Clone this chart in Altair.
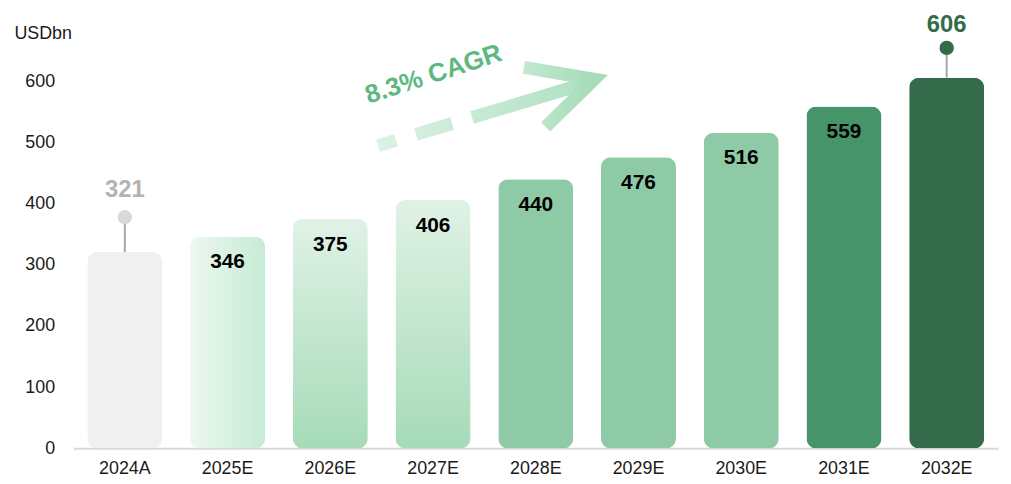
import altair as alt
import pandas as pd

# ---- data ----
categories = ["2024A", "2025E", "2026E", "2027E", "2028E", "2029E", "2030E", "2031E", "2032E"]
values = [321, 346, 375, 406, 440, 476, 516, 559, 606]
bar_style = ["solid", "hgrad", "vgrad", "vgrad", "solid", "solid", "solid", "solid", "solid"]
bar_fill = ["#f0f0f0", "", "", "", "#8ecaa6", "#8ecaa6", "#8ecaa6", "#46946a", "#336b4b"]
inside_label = [False, True, True, True, True, True, True, True, False]
lollipop = [True, False, False, False, False, False, False, False, True]
dot_color = ["#d9d9d9", "", "", "", "", "", "", "", "#336b4b"]
top_label_color = ["#b3b3b3", "", "", "", "", "", "", "", "#336b4b"]
cagr_text = "8.3% CAGR"
y_ticks = [0, 100, 200, 300, 400, 500, 600]

df = pd.DataFrame({
    "cat": categories,
    "value": values,
    "style": bar_style,
    "fill": bar_fill,
    "inside": inside_label,
    "lolli": lollipop,
    "dot": dot_color,
    "tcol": top_label_color,
})

FONT = "Liberation Sans"
FIRST = categories[0]
LAST = categories[-1]

x_enc = alt.X("cat:N", sort=categories,
              scale=alt.Scale(paddingInner=0.27, paddingOuter=0.135),
              axis=alt.Axis(title=None, labelAngle=0, ticks=False, domainColor="#d9d9d9",
                            domainWidth=2, labelPadding=11, labelFontSize=18,
                            labelColor="#1a1a1a", labelFont=FONT))
y_enc = alt.Y("value:Q", scale=alt.Scale(domain=[0, 600], nice=False),
              axis=alt.Axis(values=y_ticks, domain=False, ticks=False, grid=False,
                            labelFontSize=18, labelPadding=19, labelColor="#1a1a1a",
                            labelFont=FONT, title="USDbn", titleAngle=0, titleX=-60,
                            titleY=-48, titleAlign="left", titleBaseline="middle",
                            titleFontWeight="normal", titleFontSize=18, titleFont=FONT,
                            titleColor="#1a1a1a"))

base = alt.Chart(df).encode(x=x_enc, y=y_enc)

solid = base.transform_filter("datum.style == 'solid'").mark_bar(cornerRadius=10).encode(
    fill=alt.Fill("fill:N", scale=None))

hgrad = base.transform_filter("datum.style == 'hgrad'").mark_bar(
    cornerRadius=10,
    color=alt.Gradient(gradient="linear", x1=0, x2=1, y1=0, y2=0,
                       stops=[alt.GradientStop(color="#ecf8f0", offset=0),
                              alt.GradientStop(color="#c6ebd4", offset=1)]))

vgrad = base.transform_filter("datum.style == 'vgrad'").mark_bar(
    cornerRadius=10,
    color=alt.Gradient(gradient="linear", x1=0, x2=0, y1=0, y2=1,
                       stops=[alt.GradientStop(color="#e0f2e6", offset=0),
                              alt.GradientStop(color="#a6dbb8", offset=1)]))

inner_text = base.transform_filter("datum.inside").mark_text(
    dy=26, fontWeight="bold", fontSize=21, font=FONT, color="#000000",
    baseline="middle").encode(text="value:Q")


def lolli_layers(cat, dot_off, text_off):
    b = base.transform_filter(alt.datum.cat == cat)
    stem = b.mark_rule(color="#a6a6a6", strokeWidth=2, y2Offset=dot_off).encode(
        y2=alt.Y2("value:Q"))
    dot = b.mark_circle(size=210, opacity=1, yOffset=dot_off).encode(
        color=alt.Color("dot:N", scale=None))
    txt = b.mark_text(dy=text_off, fontWeight="bold", fontSize=24, font=FONT,
                      baseline="middle").encode(text="value:Q",
                                                color=alt.Color("tcol:N", scale=None))
    return [stem, dot, txt]


lolli_first = lolli_layers(FIRST, -35, -62)
lolli_last = lolli_layers(LAST, -30, -53)

# ---- CAGR annotation (decorative arrow), pixel positions relative to plot origin ----
OX, OY = 74, 80
arrow_df = pd.DataFrame({"x": [528 - OX, 599 - OX, 550 - OX],
                         "y": [66 - OY, 78 - OY, 126 - OY],
                         "o": [0, 1, 2]})
shaft = alt.Chart(pd.DataFrame({"a": [0]})).mark_rule(
    strokeWidth=13, strokeCap="butt", strokeDash=[19, 21, 38, 21, 400],
    stroke=alt.Gradient(gradient="linear", x1=0, x2=1, y1=0, y2=0,
                        stops=[alt.GradientStop(color="#dcf2e4", offset=0),
                               alt.GradientStop(color="#b0e0c2", offset=1)])
).encode(x=alt.value(381 - OX), x2=alt.value(594 - OX), y=alt.value(145 - OY), y2=alt.value(81 - OY))

head = alt.Chart(arrow_df).mark_line(
    strokeWidth=13, strokeJoin="miter", strokeCap="butt",
    stroke=alt.Gradient(gradient="linear", x1=0, x2=1, y1=0, y2=0,
                        stops=[alt.GradientStop(color="#c2e8cf", offset=0),
                               alt.GradientStop(color="#a6dbb8", offset=1)])
).encode(x=alt.X("x:Q", scale=None), y=alt.Y("y:Q", scale=None), order=alt.Order("o:Q"))

cagr = alt.Chart(pd.DataFrame({"t": [cagr_text]})).mark_text(
    angle=342, fontSize=26, fontWeight="bold", font=FONT,
    color="#5db97f", align="center", baseline="middle").encode(
    text="t:N", x=alt.value(437 - OX), y=alt.value(73 - OY))

chart = alt.layer(solid, hgrad, vgrad, inner_text, *lolli_first, *lolli_last,
                  shaft, head, cagr).properties(
    width=932, height=370,
    autosize=alt.AutoSizeParams(type="none"),
    padding={"left": 66, "top": 72, "right": 5, "bottom": 30},
).configure_view(stroke=None)

chart.save("out.html", embed_options={"renderer": "svg", "actions": False})
